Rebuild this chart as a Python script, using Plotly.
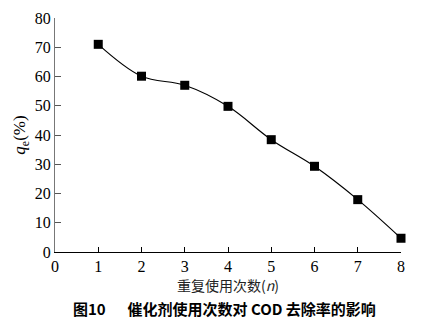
import plotly.graph_objects as go

n_uses = [1, 2, 3, 4, 5, 6, 7, 8]
removal = [71.0, 60.1, 57.0, 49.8, 38.4, 29.3, 17.9, 4.7]
x_ticks = [0, 1, 2, 3, 4, 5, 6, 7, 8]
y_ticks = [0, 10, 20, 30, 40, 50, 60, 70, 80]

serif = "Liberation Serif, Times New Roman, serif"
cjk = "Noto Sans CJK SC"

fig = go.Figure()
fig.add_trace(go.Scatter(
    x=n_uses, y=removal, mode="lines+markers",
    line=dict(color="black", width=1.2, shape="spline", smoothing=1.0),
    marker=dict(symbol="square", size=9, color="black"),
    cliponaxis=False, showlegend=False,
))

fig.update_layout(
    width=434, height=326,
    margin=dict(l=55, r=33, t=10, b=74),
    paper_bgcolor="white", plot_bgcolor="white",
    font=dict(family=serif, color="black", size=16),
    xaxis=dict(
        range=[0, 8], tickvals=x_ticks, ticktext=[str(v) for v in x_ticks],
        ticks="inside", ticklen=5, tickcolor="black", tickwidth=1,
        showline=True, linecolor="black", linewidth=1.3,
        showgrid=False, zeroline=False,
        tickfont=dict(family=serif, size=16),
        title=dict(text="重复使用次数(<i>n</i>)", font=dict(family=cjk, size=14, color="#222"), standoff=0),
    ),
    yaxis=dict(
        range=[0, 80], tickvals=y_ticks, ticktext=[str(v) for v in y_ticks],
        ticks="inside", ticklen=6, tickcolor="#555", tickwidth=1,
        showline=True, linecolor="#777", linewidth=1.3,
        showgrid=False, zeroline=False,
        tickfont=dict(family=serif, size=16),
        title=dict(text="<i>q</i><sub>e</sub>(%)", font=dict(family=serif, size=17), standoff=4),
    ),
)

fig.add_annotation(
    text="<b>图10　  催化剂使用次数对 COD 去除率的影响</b>",
    xref="paper", yref="paper", x=0.49, y=0, yshift=-56,
    xanchor="center", yanchor="middle", showarrow=False,
    font=dict(family=cjk, size=15, color="black"),
)

fig.write_html("out.html")
